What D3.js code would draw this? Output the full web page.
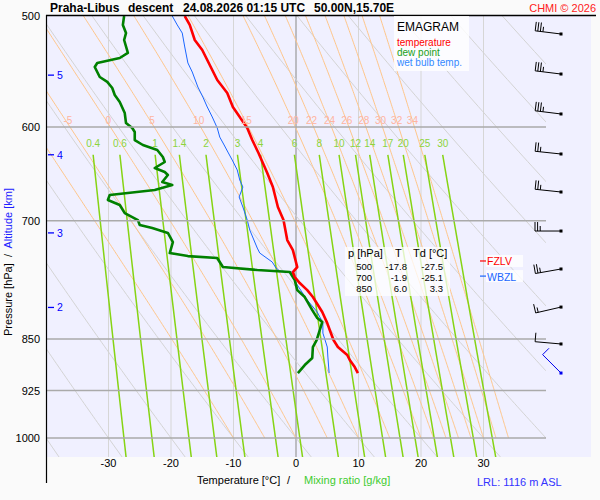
<!DOCTYPE html>
<html><head><meta charset="utf-8">
<script src="https://cdn.jsdelivr.net/npm/d3@7"></script>
<style>
body{margin:0;background:#fafafa;}
svg{display:block;font-family:"Liberation Sans",Arial,Helvetica,sans-serif;}
</style>
</head><body>
<svg id="c" width="600" height="500"></svg>
<script>
// ---------------- DATA ----------------
const tempP = [500,507.4,520.1,528.7,541.9,555.4,567.4,580.6,590.2,601.0,613.0,626.2,647.1,662.2,684.3,699.1,722.4,734.4,755.2,761.4,767.7,775.3,784.3,793.3,803.8,813.1,828.0,837.5,851.4,861.2,872.6,879.8,890.0,898.8];
const tempT = [-17.8,-17.0,-16.2,-15.0,-13.8,-12.6,-11.0,-10.1,-9.0,-7.8,-7.0,-6.0,-4.6,-3.7,-2.9,-2.0,-1.4,-0.5,0.2,-0.5,-0.2,0.6,1.8,2.7,3.5,4.2,5.0,5.4,6.0,6.7,8.2,8.6,9.4,9.9];

const dewP = [500,507.4,514.2,520.1,531.3,535.7,540.1,543.7,552.7,557.2,562.8,569.3,575.9,586.4,596.1,601.0,605.0,613.0,618.0,623.1,630.3,635.5,641.8,646.0,649.2,656.7,660.0,665.4,670.9,676.4,682.0,691.1,699.1,704.8,708.3,714.1,724.8,738.0,741.7,744.1,755.2,758.9,761.4,771.5,784.3,793.3,810.5,821.2,826.6,837.5,851.4,861.2,876.9,887.1,898.8];
const dewT = [-27.5,-27.7,-27.2,-27.5,-26.9,-28.2,-31.8,-32.2,-31.4,-30.2,-29.4,-29.0,-28.2,-27.4,-27.2,-26.2,-25.8,-25.8,-24.5,-22.2,-21.3,-21.0,-22.6,-21.0,-20.5,-21.4,-19.8,-22.6,-29.8,-30.1,-28.2,-27.4,-25.3,-25.0,-23.0,-20.5,-19.7,-20.2,-17.3,-12.6,-11.7,-6.2,-1.0,-0.2,0.2,1.4,2.6,3.4,4.2,3.8,3.3,2.7,2.6,1.4,0.3];

const wbP = [500,507.4,514.2,526.1,540.1,548.2,561.9,571.2,580.6,590.2,601.0,610.0,618.0,625.2,633.5,643.9,654.6,662.2,673.1,684.3,699.1,710.6,732.0,738.0,749.0,756.4,760.2,761.4,775.3,797.3,813.1,828.0,841.7,861.2,875.5,898.8];
const wbT = [-19.8,-19.0,-18.2,-17.8,-17.3,-16.6,-15.7,-14.9,-14.2,-13.4,-12.6,-12.2,-11.5,-10.9,-10.2,-9.4,-9.0,-8.5,-9.1,-8.5,-7.8,-7.4,-6.2,-5.8,-3.8,-3.2,-2.6,-0.6,0.0,1.8,3.4,4.3,4.3,5.0,5.1,5.3];

const pressureTicks = [500,600,700,850,925,1000];
const tempTicks = [-30,-20,-10,0,10,20,30];
const dryTheta = d3.range(-40, 150, 10);           // dry adiabats, theta in degC
const wetTheta = [-10,-5,0,5,10,15,20,22,24,26,28,30,32,34]; // saturated adiabats (theta_w)
const mixRatios = [0.4,0.6,1,1.4,2,3,4,6,8,10,12,14,17,20,25,30];
const altKm = [2,3,4,5];
const altP = [807,714,628,551];

const windP   = [515,550,587.3,627.2,667.6,711.8,757.6,806.5,856.9];
const windDir = [277,277,277,276,276,270,260,257,275];
const windSpd = [35,35,35,25,25,25,25,15,10];
const surfWind = {p:898.8, dir:315, spd:10};

const tableRows = [["500","-17.8","-27.5"],["700","-1.9","-25.1"],["850","6.0","3.3"]];
const fzlvP = 747.7, wbzlP = 766.5;

// ---------------- SCALES ----------------
const svg = d3.select("#c");
const x = d3.scaleLinear().domain([-40,40]).range([46,546]);
const y = d3.scaleLog().domain([500,1000]).range([16,438]);

svg.append("rect").attr("x",46).attr("y",16).attr("width",545).attr("height",441).attr("fill","#f0f0ff");
svg.append("clipPath").attr("id","plotclip").append("rect").attr("x",46).attr("y",16).attr("width",500).attr("height",441);
const plot = svg.append("g").attr("clip-path","url(#plotclip)");

// thermo helpers
const Rd=287.04, Cp=1005.7, Lv=2.501e6, eps=0.622, kap=Rd/Cp;
const es = Tc => 6.112*Math.exp(17.67*Tc/(Tc+243.5));
function dTdp(p,T){ const e=es(T-273.15); const rs=eps*e/(p-e);
  return (1/p)*(Rd*T+Lv*rs)/(Cp+Lv*Lv*rs*eps/(Rd*T*T)); }
function moist(thw){
  let T=thw+273.15, p=1000, h=-2; const pts=[[p,T-273.15]];
  while(p>490){
    const k1=dTdp(p,T), k2=dTdp(p+h/2,T+h/2*k1), k3=dTdp(p+h/2,T+h/2*k2), k4=dTdp(p+h,T+h*k3);
    T+=h/6*(k1+2*k2+2*k3+k4); p+=h; pts.push([p,T-273.15]);
  }
  return pts;
}
const tdFromW = (w,p) => { const e=w*p/(622+w); const l=Math.log(e/6.112); return 243.5*l/(17.67-l); };

const line = d3.line().x(d=>x(d[1])).y(d=>y(d[0]));

// vertical isotherms
tempTicks.forEach(t=>{
  plot.append("line").attr("x1",x(t)).attr("x2",x(t)).attr("y1",16).attr("y2",457)
    .attr("stroke", t===0?"#999":"#d6d6d6").attr("stroke-width", t===0?1.2:1);
});

// dry adiabats
dryTheta.forEach(th=>{
  const pts=d3.range(480,1045,5).map(p=>[p,(th+273.15)*Math.pow(p/1000,kap)-273.15]);
  plot.append("path").attr("d",line(pts)).attr("fill","none").attr("stroke","#d4d4d4").attr("stroke-width",1);
});

// saturated adiabats
const wetLines = wetTheta.map(th=>({th, pts:moist(th)}));
wetLines.forEach(o=>{
  plot.append("path").attr("d",line(o.pts)).attr("fill","none").attr("stroke","#ffc68a").attr("stroke-width",1);
});

// mixing ratio lines
const mixTop = 628;
mixRatios.forEach(w=>{
  const pts=d3.range(mixTop,1040,4).map(p=>[p,tdFromW(w,p)]);
  plot.append("path").attr("d",line(pts)).attr("fill","none").attr("stroke","#86d414").attr("stroke-width",1.5);
});

// horizontal isobars
pressureTicks.slice(1).forEach(p=>{
  svg.append("line").attr("x1",46).attr("x2",546).attr("y1",y(p)).attr("y2",y(p))
    .attr("stroke","#aaa").attr("stroke-width",1.5);
});

// labels of adiabats and mixing ratio
wetLines.forEach(o=>{
  const at = o.pts.find(d=>d[0]<=600);
  const xx = x(at[1]);
  if (xx>52 && xx<540)
    svg.append("text").attr("x",xx-2).attr("y",124).attr("text-anchor","middle")
      .attr("font-size",10).attr("fill","#ffb4a0").text(o.th);
});
mixRatios.forEach(w=>{
  svg.append("text").attr("x",x(tdFromW(w,mixTop))).attr("y",147).attr("text-anchor","middle")
    .attr("font-size",10).attr("fill","#8cd43c").text(w);
});

// profiles
const zip=(P,T)=>P.map((p,i)=>[p,T[i]]);
plot.append("path").attr("d",line(zip(wbP,wbT))).attr("fill","none").attr("stroke","#1a66ff").attr("stroke-width",1);
plot.append("path").attr("d",line(zip(dewP,dewT))).attr("fill","none").attr("stroke","#008000").attr("stroke-width",2.6).attr("stroke-linejoin","round");
plot.append("path").attr("d",line(zip(tempP,tempT))).attr("fill","none").attr("stroke","#ff0000").attr("stroke-width",2.6).attr("stroke-linejoin","round");

// frame
svg.append("line").attr("x1",46).attr("x2",596).attr("y1",15.5).attr("y2",15.5).attr("stroke","#000").attr("stroke-width",1.5);
svg.append("line").attr("x1",46.5).attr("x2",46.5).attr("y1",15).attr("y2",483).attr("stroke","#000").attr("stroke-width",1.2);

// axis labels
pressureTicks.forEach(p=>{
  svg.append("text").attr("x",40).attr("y",y(p)+4).attr("text-anchor","end").attr("font-size",11).attr("fill","#000").text(p);
});
tempTicks.forEach(t=>{
  svg.append("text").attr("x",x(t)).attr("y",466.5).attr("text-anchor","middle").attr("font-size",11).attr("fill","#000").text(t);
});
altKm.forEach((k,i)=>{
  const yy=y(altP[i]);
  svg.append("line").attr("x1",48).attr("x2",54).attr("y1",yy).attr("y2",yy).attr("stroke","#0000ff").attr("stroke-width",1.3);
  svg.append("text").attr("x",57).attr("y",yy+4).attr("font-size",10.5).attr("fill","#0000ff").text(k);
});

// titles
const title = svg.append("text").attr("y",12).attr("font-size",12).attr("font-weight","bold").attr("fill","#000");
[["Praha-Libus",50],["descent",128],["24.08.2026 01:15 UTC",183],["50.00N,15.70E",314]].forEach(s=>{
  title.append("tspan").attr("x",s[1]).text(s[0]);
});
svg.append("text").attr("x",596).attr("y",12).attr("text-anchor","end").attr("font-size",11).attr("fill","#ff2020").text("CHMI © 2026");

const xt = svg.append("text").attr("y",484).attr("font-size",11);
xt.append("tspan").attr("x",197).attr("fill","#000").text("Temperature [°C]");
xt.append("tspan").attr("x",287).attr("fill","#000").text("/");
xt.append("tspan").attr("x",304).attr("fill","#40cc30").text("Mixing ratio [g/kg]");
svg.append("text").attr("x",477).attr("y",486).attr("font-size",11).attr("fill","#3333ff").text("LRL: 1116 m ASL");

const yt = svg.append("text").attr("transform","translate(12,262) rotate(-90)").attr("text-anchor","middle").attr("font-size",11).style("white-space","pre");
yt.append("tspan").attr("fill","#000").text("Pressure [hPa]  /  ");
yt.append("tspan").attr("fill","#2020ff").text("Altitude [km]");

// legend box
svg.append("rect").attr("x",394).attr("y",16).attr("width",75).attr("height",55).attr("fill","#fff").attr("fill-opacity",0.8);
svg.append("text").attr("x",397).attr("y",31).attr("font-size",12).attr("fill","#000").text("EMAGRAM");
[["temperature","#ff0000",46],["dew point","#20a020",56],["wet bulb temp.","#3388ff",66]].forEach(l=>{
  svg.append("text").attr("x",397).attr("y",l[2]).attr("font-size",10).attr("fill",l[1]).text(l[0]);
});

// table
svg.append("rect").attr("x",345).attr("y",247).attr("width",105).attr("height",49).attr("fill","#fff").attr("fill-opacity",0.75);
svg.append("text").attr("x",348).attr("y",257).attr("font-size",11).text("p [hPa]");
svg.append("text").attr("x",395).attr("y",257).attr("font-size",11).text("T");
svg.append("text").attr("x",413).attr("y",257).attr("font-size",11).text("Td [°C]");
tableRows.forEach((r,i)=>{
  const yy=270+i*11;
  [[r[0],372],[r[1],407],[r[2],443]].forEach(c=>{
    svg.append("text").attr("x",c[1]).attr("y",yy).attr("text-anchor","end").attr("font-size",9.5).text(c[0]);
  });
});

// FZLV / WBZL markers
[[fzlvP,"FZLV","#ff0000"],[wbzlP,"WBZL","#1a66ff"]].forEach(m=>{
  const yy=y(m[0]);
  svg.append("rect").attr("x",486).attr("y",yy-6).attr("width",37).attr("height",12).attr("fill","#fff").attr("fill-opacity",0.8);
  svg.append("line").attr("x1",480).attr("x2",486).attr("y1",yy).attr("y2",yy).attr("stroke",m[2]).attr("stroke-width",1.2);
  svg.append("text").attr("x",487).attr("y",yy+4.5).attr("font-size",10.5).attr("fill",m[2]).text(m[1]);
});

// wind barbs
function barb(p,dir,spd,color){
  const px=561, py=y(p), L=26, r=dir*Math.PI/180;
  const sx=Math.sin(r), sy=-Math.cos(r);
  const fx=-sy, fy=sx;
  const g=svg.append("g").attr("stroke",color).attr("stroke-width",1).attr("fill","none");
  g.append("line").attr("x1",px).attr("y1",py).attr("x2",px+sx*L).attr("y2",py+sy*L);
  let s=spd, d=L;
  while(s>=10){
    const bx=px+sx*d, by=py+sy*d;
    g.append("line").attr("x1",bx).attr("y1",by).attr("x2",bx+fx*9).attr("y2",by+fy*9);
    s-=10; d-=2.6;
  }
  if(s>=5){
    const bx=px+sx*d, by=py+sy*d;
    g.append("line").attr("x1",bx).attr("y1",by).attr("x2",bx+fx*5).attr("y2",by+fy*5);
  }
  svg.append("rect").attr("x",px-1.5).attr("y",py-1.5).attr("width",3).attr("height",3).attr("fill",color);
}
windP.forEach((p,i)=>barb(p,windDir[i],windSpd[i],"#000"));
barb(surfWind.p,surfWind.dir,surfWind.spd,"#0000ee");
</script>
</body></html>
